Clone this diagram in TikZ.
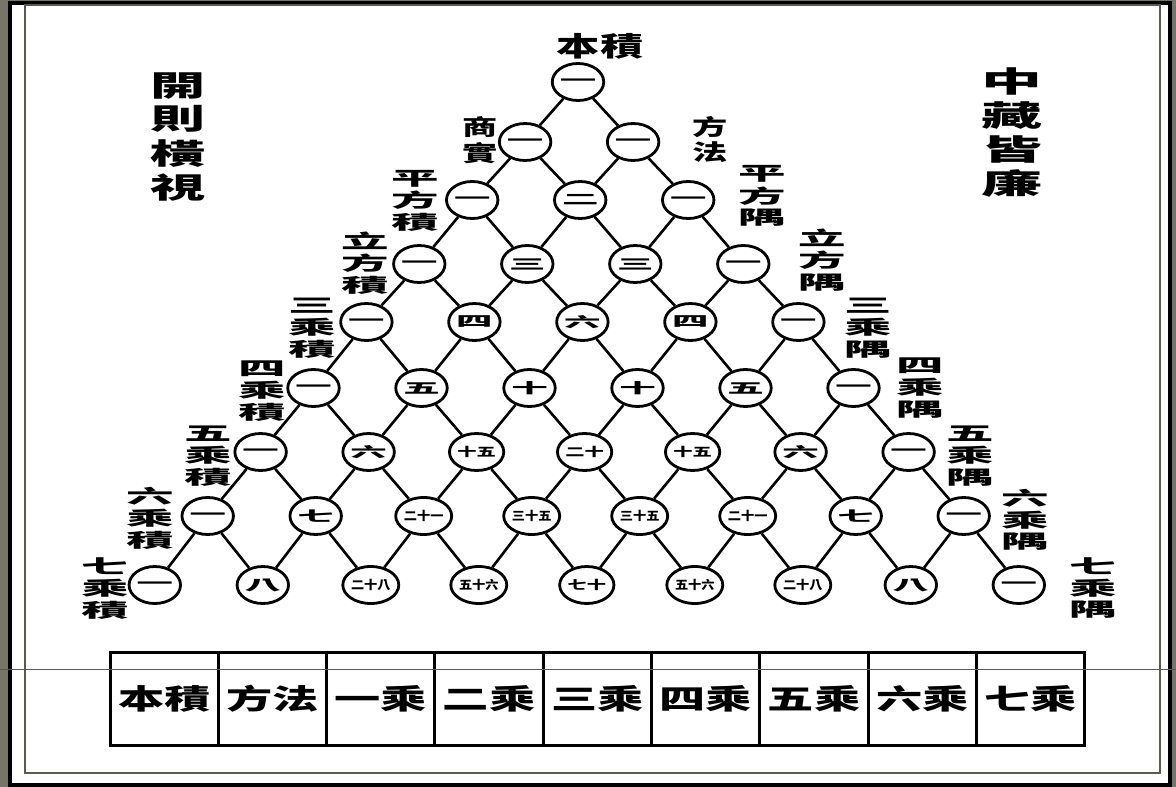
\documentclass[tikz,border=0pt]{standalone}
\usepackage{fontspec}
\usepackage{graphicx}
\usetikzlibrary{shapes.geometric}
\newfontfamily\cjk{Noto Sans CJK TC}
\definecolor{bandgray}{RGB}{118,118,104}
\definecolor{thingray}{RGB}{90,90,80}
\newcommand\vt[2]{\scalebox{#1}[1]{\begin{tabular}{@{}c@{}}#2\end{tabular}}}
\newcommand\hs[2]{\scalebox{#1}[1]{#2}}
\newcommand\sx[1]{\scalebox{2.6}[1]{\fontsize{14}{14}\selectfont #1}}
\newcommand\mx[1]{\scalebox{1.6}[1]{#1}}
\newcommand\lx[1]{\scalebox{1.1}[1]{#1}}
\begin{document}
\begin{tikzpicture}[x=1pt,y=-1pt,
  num/.style={draw, ellipse, line width=2.8pt, minimum width=47pt, minimum height=37pt,
    inner sep=0pt, fill=white, font=\cjk\bfseries\fontsize{12}{12}\selectfont},
  edge/.style={line width=2.6pt},
  lab/.style={inner sep=0pt, font=\cjk\bfseries\fontsize{19}{19}\selectfont},
  lab2/.style={inner sep=0pt, font=\cjk\bfseries\fontsize{22}{23}\selectfont},
  title/.style={inner sep=0pt, font=\cjk\bfseries\fontsize{29}{31}\selectfont},
  cell/.style={draw, line width=3pt, minimum width=108.3pt, minimum height=93pt,
    inner sep=0pt, font=\cjk\bfseries\fontsize{28}{28}\selectfont}]
\useasboundingbox (0,0) rectangle (1176,787);
% frame
\fill[bandgray] (0,0) rectangle (1176,787);
\fill[white] (10,3) rectangle (1170,785);
\draw[line width=4pt] (10,3) rectangle (1170,785);
\draw[line width=1.2pt, thingray] (25,5) rectangle (1160,773);
% triangle nodes
\foreach \row/\vals in {
  0/{\sx{一}},
  1/{\sx{一},\sx{一}},
  2/{\sx{一},\sx{二},\sx{一}},
  3/{\sx{一},\sx{三},\sx{三},\sx{一}},
  4/{\sx{一},\sx{四},\sx{六},\sx{四},\sx{一}},
  5/{\sx{一},\sx{五},\sx{十},\sx{十},\sx{五},\sx{一}},
  6/{\sx{一},\sx{六},\mx{十五},\mx{二十},\mx{十五},\sx{六},\sx{一}},
  7/{\sx{一},\sx{七},\lx{二十一},\lx{三十五},\lx{三十五},\lx{二十一},\sx{七},\sx{一}},
  8/{\sx{一},\sx{八},\lx{二十八},\lx{五十六},\mx{七十},\lx{五十六},\lx{二十八},\sx{八},\sx{一}}} {
  \foreach \v [count=\col from 0] in \vals {
    \pgfmathsetmacro\yy{{82,142,200,264,322,388,452,516,585}[\row]}
    \pgfmathsetmacro\xx{578+1.1*\row+(\col-\row/2)*108}
    \node[num] (p-\row-\col) at (\xx,\yy) {\v};
  }
}
% connectors
\foreach \row in {0,...,7} {
  \pgfmathtruncatemacro\nr{\row+1}
  \foreach \col in {0,...,\row} {
    \pgfmathtruncatemacro\nc{\col+1}
    \draw[edge] (p-\row-\col) -- (p-\nr-\col);
    \draw[edge] (p-\row-\col) -- (p-\nr-\nc);
  }
}
% top label
\node[lab2, font=\cjk\bfseries\fontsize{27}{27}\selectfont] (top) at (600,46) {\hs{1.6}{本積}};
% side labels
\node[lab2] (l1) at (480,142) {\vt{1.6}{商\\實}};
\node[lab2] (r1) at (710,142) {\vt{1.6}{方\\法}};
\node[lab] (l2) at (415,203) {\vt{2.5}{平\\方\\積}};
\node[lab] (r2) at (762,198) {\vt{2.5}{平\\方\\隅}};
\node[lab] (l3) at (365,265) {\vt{2.5}{立\\方\\積}};
\node[lab] (r3) at (822,262) {\vt{2.5}{立\\方\\隅}};
\node[lab] (l4) at (312,330) {\vt{2.5}{三\\乘\\積}};
\node[lab] (r4) at (868,330) {\vt{2.5}{三\\乘\\隅}};
\node[lab] (l5) at (262,393) {\vt{2.5}{四\\乘\\積}};
\node[lab] (r5) at (920,390) {\vt{2.5}{四\\乘\\隅}};
\node[lab] (l6) at (208,458) {\vt{2.5}{五\\乘\\積}};
\node[lab] (r6) at (970,458) {\vt{2.5}{五\\乘\\隅}};
\node[lab] (l7) at (150,520) {\vt{2.5}{六\\乘\\積}};
\node[lab] (r7) at (1025,522) {\vt{2.5}{六\\乘\\隅}};
\node[lab] (l8) at (105,590) {\vt{2.5}{七\\乘\\積}};
\node[lab] (r8) at (1093,590) {\vt{2.5}{七\\乘\\隅}};
% titles
\node[title] (tl) at (178,140) {\vt{1.9}{開\\則\\橫\\視}};
\node[title] (tr) at (1012,136) {\vt{2.1}{中\\藏\\皆\\廉}};
% bottom cells
\foreach \t [count=\i from 0] in {本積,方法,一乘,二乘,三乘,四乘,五乘,六乘,七乘} {
  \node[cell] (c\i) at (164.2+\i*108.3,698.5) {\hs{1.65}{\t}};
}
% scan line
\draw[line width=0.8pt, thingray] (0,669) -- (1176,669);
\end{tikzpicture}
\end{document}
